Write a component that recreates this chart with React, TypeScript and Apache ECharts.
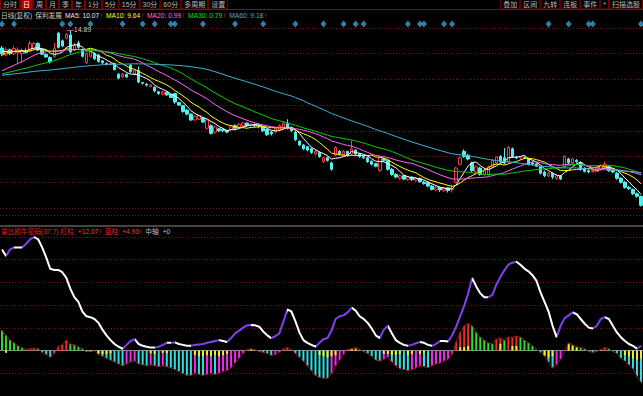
import React, { useEffect, useRef } from "react";
import * as echarts from "echarts";

// ---------------- data ----------------
// closes before the visible window (only used to seed the moving averages)
const priorCloses = [
  13.0, 13.1, 13.2, 13.1, 13.0, 12.9, 13.0, 13.2, 13.3, 13.2,
  13.1, 13.0, 13.1, 13.2, 13.3, 13.4, 13.3, 13.2, 13.1, 13.0,
  13.1, 13.2, 13.1, 13.0, 12.9, 13.0, 13.1, 13.2, 13.1, 13.0,
  13.0, 12.9, 13.1, 13.0, 12.9, 13.0, 13.1, 13.0, 12.9, 12.8,
  12.7, 12.6, 12.8, 12.7, 12.6, 12.5, 12.7, 12.8, 12.9, 13.0,
  13.3, 13.6, 13.9, 14.2, 14.0, 14.1, 14.2, 14.0, 14.1,
];

const opens = [
  14.22, 13.95, 14.15, 14.0, 14.05, 14.0, 14.1, 14.1, 14.2, 14.4,
  14.15, 13.98, 13.85, 13.9, 14.8, 14.5, 14.6, 14.73, 14.15, 14.42,
  14.14, 13.65, 13.9, 14.0, 13.95, 13.72, 13.62, 13.58, 13.62, 13.2,
  13.1, 13.2, 13.55, 13.2, 13.35, 12.88, 12.82, 12.72, 12.7, 12.52,
  12.42, 12.5, 12.42, 12.45, 12.1, 11.98, 11.8, 11.65, 11.42, 11.45,
  11.5, 11.1, 11.2, 10.95, 11.08, 11.05, 11.0, 11.05, 11.2, 11.15,
  11.2, 11.3, 11.22, 11.25, 11.2, 11.15, 11.05, 10.95, 10.95, 11.05,
  11.1, 11.28, 11.12, 10.95, 10.6, 10.45, 10.38, 10.3, 10.1, 10.15,
  9.8, 9.95, 9.75, 10.06, 10.2, 10.05, 10.2, 10.1, 10.25, 10.1,
  10.0, 9.95, 9.82, 9.72, 9.45, 9.9, 9.85, 9.5, 9.3, 9.15,
  9.25, 9.1, 9.2, 9.08, 9.15, 9.0, 8.98, 8.85, 8.7, 8.8,
  8.68, 8.78, 8.7, 9.0, 9.7, 10.2, 10.05, 9.75, 9.4, 9.55,
  9.3, 9.3, 9.6, 9.75, 10.0, 9.95, 9.8, 10.3, 9.98, 9.95,
  9.97, 9.9, 9.75, 9.72, 9.6, 9.4, 9.25, 9.35, 9.15, 9.25,
  9.6, 9.9, 9.75, 9.85, 9.75, 9.55, 9.45, 9.42, 9.42, 9.5,
  9.55, 9.6, 9.45, 9.35, 9.15, 9.0, 8.8, 8.72, 8.55, 8.45,
];
const closes = [
  14.0, 14.15, 14.0, 14.2, 14.15, 14.1, 14.05, 14.4, 14.4, 14.15,
  13.98, 13.87, 13.68, 14.2, 14.25, 14.3, 14.75, 14.07, 14.34, 14.25,
  13.9, 14.0, 14.07, 13.8, 13.7, 13.65, 13.58, 13.62, 13.38, 13.05,
  13.2, 13.1, 13.3, 13.35, 12.9, 12.85, 12.78, 12.78, 12.55, 12.45,
  12.5, 12.4, 12.3, 12.12, 12.0, 11.75, 11.65, 11.42, 11.55, 11.6,
  11.34, 11.42, 10.9, 11.15, 11.0, 11.0, 10.95, 11.15, 11.1, 11.25,
  11.3, 11.2, 11.25, 11.2, 11.18, 11.0, 10.85, 10.88, 11.1, 11.2,
  11.3, 11.12, 11.0, 10.65, 10.45, 10.3, 10.25, 10.15, 10.2, 10.0,
  9.95, 9.85, 9.5, 10.35, 10.1, 10.2, 10.05, 10.3, 10.1, 10.0,
  9.95, 9.8, 9.7, 9.62, 9.98, 9.85, 9.5, 9.3, 9.2, 9.25,
  9.12, 9.2, 9.1, 9.15, 9.02, 8.95, 8.85, 8.72, 8.8, 8.7,
  8.78, 8.68, 8.75, 9.55, 9.95, 10.0, 9.9, 9.45, 9.6, 9.3,
  9.45, 9.6, 9.85, 9.98, 9.8, 9.75, 10.35, 10.0, 9.95, 9.97,
  9.95, 9.7, 9.7, 9.62, 9.35, 9.25, 9.35, 9.2, 9.25, 9.12,
  10.0, 9.75, 9.9, 9.8, 9.5, 9.42, 9.4, 9.45, 9.55, 9.65,
  9.7, 9.45, 9.4, 9.15, 9.0, 8.8, 8.75, 8.55, 8.45, 8.1,
];
const lows = [
  13.9, 13.9, 13.95, 13.95, 13.6, 13.65, 14.0, 14.05, 14.15, 14.1,
  13.95, 13.85, 13.62, 13.85, 14.2, 14.25, 14.55, 14.0, 14.1, 14.2,
  13.85, 13.6, 13.85, 13.75, 13.65, 13.6, 13.55, 13.55, 13.35, 13.0,
  13.05, 13.05, 13.25, 13.15, 12.85, 12.8, 12.72, 12.7, 12.5, 12.4,
  12.38, 12.35, 12.28, 12.05, 11.97, 11.7, 11.6, 11.38, 11.4, 11.42,
  11.3, 11.05, 10.85, 10.88, 10.95, 10.95, 10.9, 11.0, 11.05, 11.1,
  11.15, 11.15, 11.18, 11.15, 11.1, 10.95, 10.8, 10.82, 10.9, 11.0,
  11.05, 11.05, 10.95, 10.6, 10.4, 10.25, 10.2, 10.1, 10.05, 9.95,
  9.75, 9.8, 9.45, 10.0, 10.05, 10.0, 10.0, 10.05, 10.05, 9.95,
  9.9, 9.75, 9.65, 9.58, 9.4, 9.8, 9.45, 9.25, 9.15, 9.1,
  9.08, 9.05, 9.05, 9.02, 8.98, 8.9, 8.8, 8.68, 8.65, 8.62,
  8.62, 8.6, 8.6, 8.95, 9.65, 9.95, 9.85, 9.4, 9.3, 9.25,
  9.25, 9.25, 9.55, 9.7, 9.75, 9.7, 9.75, 9.95, 9.9, 9.9,
  9.9, 9.65, 9.65, 9.6, 9.3, 9.2, 9.2, 9.12, 9.1, 9.08,
  9.55, 9.7, 9.7, 9.75, 9.45, 9.38, 9.35, 9.38, 9.4, 9.45,
  9.5, 9.4, 9.35, 9.1, 8.95, 8.75, 8.7, 8.5, 8.4, 8.05,
];
const highs = [
  14.3, 14.25, 14.2, 14.3, 14.25, 14.2, 14.2, 14.5, 14.45, 14.45,
  14.2, 14.0, 13.9, 14.42, 14.85, 14.55, 14.8, 14.89, 14.42, 14.5,
  14.2, 14.05, 14.1, 14.05, 14.0, 13.75, 13.66, 13.65, 13.65, 13.25,
  13.25, 13.22, 13.6, 13.4, 13.5, 12.9, 12.85, 12.82, 12.72, 12.55,
  12.55, 12.52, 12.45, 12.48, 12.12, 12.0, 11.85, 11.68, 11.6, 11.62,
  11.55, 11.45, 11.25, 11.2, 11.1, 11.1, 11.05, 11.2, 11.25, 11.3,
  11.35, 11.33, 11.3, 11.28, 11.25, 11.2, 11.08, 11.0, 11.12, 11.25,
  11.35, 11.45, 11.15, 11.0, 10.62, 10.48, 10.4, 10.35, 10.25, 10.2,
  10.0, 10.0, 9.8, 10.4, 10.25, 10.25, 10.22, 10.62, 10.28, 10.12,
  10.05, 10.0, 9.85, 9.75, 10.0, 9.95, 9.88, 9.55, 9.35, 9.3,
  9.28, 9.25, 9.22, 9.2, 9.18, 9.05, 9.0, 8.9, 8.85, 8.82,
  8.82, 8.8, 8.9, 9.6, 10.0, 10.28, 10.1, 9.8, 9.65, 9.6,
  9.55, 9.65, 9.9, 10.0, 10.05, 10.33, 10.4, 10.35, 10.02, 10.0,
  10.0, 9.95, 9.8, 9.75, 9.62, 9.45, 9.4, 9.38, 9.3, 9.28,
  10.05, 9.95, 9.95, 9.9, 9.8, 9.58, 9.5, 9.5, 9.6, 9.7,
  9.8, 9.65, 9.5, 9.4, 9.2, 9.05, 8.85, 8.75, 8.6, 8.48,
];

// candle indices carrying a blue signal diamond
const signalIdx = [0, 3, 15, 17, 22, 30, 35, 38, 42, 43, 50, 58, 65, 73, 80, 85, 88, 90, 101, 104, 105, 110, 112, 136, 141, 146, 147, 159];

// lower panel indicator line
const indicatorLine = [
  44.5, 41.6, 44.5, 45.4, 45.4, 45.4, 47, 49, 50, 49,
  45.4, 41, 36, 35.5, 35.5, 34.5, 32, 27.3, 23.5, 21.4,
  17.2, 15.1, 14.7, 13.9, 12.2, 9.2, 6.7, 4.6, 2.9, 1.7,
  0.8, 2.5, 4.2, 5.0, 2.9, 2.1, 1.7, 1.3, 1.3, 1.7,
  2.5, 3.4, 3.4, 3.6, 2.9, 2.5, 2.1, 2.1, 2.5, 2.7,
  2.9, 3.4, 3.8, 4.2, 4.6, 4.2, 3.8, 5.5, 7.6, 8.8,
  10.1, 11.1, 11.3, 11.1, 10.5, 8.4, 6.7, 5.5, 6.3, 7.6,
  12.6, 18.1, 17.2, 13.0, 8.0, 4.6, 3.4, 2.5, 1.7, 3.4,
  5.0, 5.5, 8.8, 13.9, 15.1, 15.5, 16.8, 18.9, 17.6, 15.1,
  13.9, 12.2, 9.7, 6.7, 5.5, 9.2, 10.9, 7.6, 4.6, 3.4,
  2.5, 2.1, 2.5, 3.2, 3.8, 3.4, 2.5, 2.1, 2.9, 4.2,
  4.2, 4.0, 6.7, 10.5, 15.1, 19.7, 25.2, 31.9, 28.2, 25.2,
  23.5, 23.5, 24.4, 29.0, 32.4, 35.3, 37.8, 38.7, 39.1, 37.8,
  36.1, 34.9, 33.2, 30.7, 25.6, 21.4, 17.2, 10.9, 5.9, 10.9,
  14.3, 15.5, 16.8, 16.0, 13.9, 11.8, 10.1, 9.7, 10.9, 13.9,
  14.7, 13.9, 10.9, 8.0, 5.9, 4.2, 2.9, 2.1, 0.8, 2.1,
];

// lower panel histogram
const histogram = [
  8.8, 6.7, 4.6, 3.4, 2.1, 1.3, 0.4, 0.8, 1.0, 0.8,
  -0.8, -1.7, -2.9, -1.3, 1.7, 2.5, 4.6, 2.9, 2.5, 1.7,
  0.8, -0.4, -0.4, -0.2, -1.7, -2.5, -3.4, -4.2, -5.0, -5.9,
  -6.7, -5.9, -5.0, -4.6, -5.9, -6.3, -6.7, -6.3, -6.7, -7.1,
  -6.7, -7.1, -7.6, -8.4, -9.2, -10.1, -10.9, -10.9, -10.1, -10.5,
  -10.9, -10.5, -10.1, -10.5, -10.1, -9.2, -8.8, -7.6, -5.5, -3.4,
  -1.3, 0.4, 0.8, 0.4, -0.4, -0.8, -1.3, -2.1, -1.7, -0.8,
  0.8, 1.3, 0.4, -1.3, -2.9, -4.6, -6.7, -8.8, -10.9, -11.8,
  -12.2, -12.2, -10.1, -6.7, -4.2, -1.7, 0.4, 0.8, 1.3, 0.4,
  -0.4, -1.3, -2.5, -4.2, -4.6, -3.8, -2.9, -5.0, -6.7, -8.0,
  -8.4, -8.8, -8.4, -7.6, -6.7, -7.1, -7.6, -6.7, -5.9, -5.5,
  -4.6, -3.8, -1.7, 3.8, 8.0, 10.9, 11.8, 10.9, 8.0, 5.9,
  4.6, 3.4, 2.9, 5.0, 5.5, 4.6, 5.9, 5.9, 6.3, 5.9,
  4.6, 3.4, 2.1, 0.4, -0.8, -2.5, -5.0, -7.6, -6.3, -3.8,
  -0.2, 3.4, 2.5, 1.7, 1.3, 0.8, -0.4, -0.8, -0.4, 0.4,
  1.3, 0.8, -0.4, -1.3, -3.4, -4.6, -6.3, -8.0, -11.3, -13.9,
];

// yellow caps drawn over the histogram: [candle index, value]
const yellowBars: [number, number][] = [
  [1, -1.0], [21, -0.4], [22, -0.4], [24, -1.2], [25, -1.5], [26, -1.5], [27, -1.2],
  [37, -1.2], [38, -1.5], [40, -1.0], [41, -1.2], [48, -2.0], [49, -2.5], [50, -2.5],
  [51, -2.0], [52, -2.5], [53, -2.0], [54, -2.5], [55, -2.0], [56, -1.5], [62, 0.6],
  [79, -2.0], [80, -2.5], [81, -3.0], [82, -2.5], [83, -2.0], [86, 0.4], [87, 0.8],
  [88, 0.6], [95, -1.5], [96, -1.5], [97, -2.0], [98, -2.0], [99, -1.5], [101, -2.0],
  [102, -1.5], [104, -1.5], [105, -1.0], [114, 1.5], [115, 1.5], [116, 2.0], [124, 3.0],
  [127, 2.0], [128, 2.0], [135, -2.0], [136, -3.0], [137, -2.5], [141, 3.0], [142, 2.0],
  [143, 1.2], [149, 0.4], [155, -2.0], [156, -2.5], [157, -3.5], [158, -4.0], [159, -3.5],
];

const maPeriods = [5, 10, 20, 30, 60];

const legendTop: [string, string, number][] = [
  ["日线(复权)", "#c8c8c8", 3],
  ["保利发展", "#c8c8c8", 3],
  ["MA5: 10.07", "#e8e8e8", 0.5],
  ["↑", "#ff3030", 3],
  ["MA10: 9.64", "#ffff00", 0.5],
  ["↑", "#ff3030", 3],
  ["MA20: 0.99", "#ff66ff", 0.5],
  ["↑", "#ff3030", 3],
  ["MA30: 0.79", "#00e000", 0.5],
  ["↑", "#ff3030", 3],
  ["MA60: 9.18", "#3fb0dc", 0.5],
  ["↑", "#ff3030", 3],
];
const legendLow: [string, string, number][] = [
  ["量比抓牛密码(37,7)", "#e02424", 2],
  ["红柱:", "#e02424", 2],
  ["+12.07↑", "#e84040", 3],
  ["蓝柱:", "#e02424", 2],
  ["+4.93↑", "#e84040", 3],
  ["中轴", "#c0c0c0", 4],
  ["+0", "#c0c0c0", 3],
];
const toolbarLeft = ["分时", "日", "周", "月", "季", "年", "1分", "5分", "15分", "30分", "60分", "多周期", "设置"];
const toolbarRight = ["叠加", "区间", "九转", "连板", "事件", "*", "扫描选股"];

// ---------------- styles ----------------
const MA_COLORS = ["#ffffff", "#ffff00", "#ff66ff", "#00d000", "#3fb0dc"];
const FONT = '"Liberation Sans", "Noto Sans CJK SC", sans-serif';
const GRID_LINE = "#761414";
const PURPLE = "#8040f0";

function movingAverage(n: number) {
  const all = priorCloses.concat(closes);
  const off = priorCloses.length;
  return closes.map((_, i) => {
    const end = off + i;
    const start = Math.max(0, end - n + 1);
    let s = 0;
    for (let k = start; k <= end; k++) s += all[k];
    return +(s / (end - start + 1)).toFixed(3);
  });
}

function buildOption() {
  const categories = closes.map((_, i) => String(i));
  const candleData = opens.map((o, i) => [o, closes[i], lows[i], highs[i]]);

  const histData = histogram.map((v, i) => {
    const prev = i > 0 ? histogram[i - 1] : v - (histogram[1] - v);
    let color;
    if (v >= 0) color = v >= prev ? "#ee2a2a" : "#2add2a";
    else color = v <= prev ? "#2ae0e0" : "#ee2aee";
    return { value: v, itemStyle: { color } };
  });
  const yellowData: any[] = histogram.map(() => "-");
  yellowBars.forEach(([i, v]) => (yellowData[i] = v));

  const pieces: any[] = [];
  let runStart = 0;
  let runUp = indicatorLine[1] > indicatorLine[0];
  for (let i = 1; i < indicatorLine.length - 1; i++) {
    const up = indicatorLine[i + 1] > indicatorLine[i];
    if (up !== runUp) {
      pieces.push({ gte: runStart, lt: i, color: runUp ? PURPLE : "#ffffff" });
      runStart = i;
      runUp = up;
    }
  }
  pieces.push({ gte: runStart, lte: indicatorLine.length - 1, color: runUp ? PURPLE : "#ffffff" });

  const ctx = document.createElement("canvas").getContext("2d")!;
  const row = (segs: [string, string, number][], x0: number, y: number, size: number) => {
    const font = `${size}px ${FONT}`;
    ctx.font = font;
    let x = x0;
    return segs.map(([t, c, g]) => {
      const el = {
        type: "text",
        x,
        y,
        silent: true,
        style: { text: t, fill: c, font, verticalAlign: "middle", textVerticalAlign: "middle" },
      };
      x += ctx.measureText(t).width + g;
      return el;
    });
  };

  const TB_SIZE = 7;
  const tbFont = `${TB_SIZE}px ${FONT}`;
  const tbWidth = (t: string) => {
    ctx.font = tbFont;
    return ctx.measureText(t).width + 6;
  };
  const toolbar = (labels: string[], x0: number) => {
    let x = x0;
    const els: any[] = [];
    labels.forEach((t) => {
      const w = tbWidth(t);
      const hot = t === "日";
      els.push({
        type: "rect",
        silent: true,
        shape: { x: x + 0.5, y: -3, width: w - 1, height: 12 },
        style: { fill: hot ? "#b00000" : "#000", stroke: "#7a0000", lineWidth: 1 },
      });
      els.push({
        type: "text",
        silent: true,
        x: x + w / 2,
        y: 4.5,
        style: { text: t, fill: hot ? "#ffffff" : "#b8b8b8", font: tbFont, align: "center", textAlign: "center", verticalAlign: "middle", textVerticalAlign: "middle" },
      });
      x += w;
    });
    return els;
  };
  const rightStart = 643 - toolbarRight.reduce((s, t) => s + tbWidth(t), 0);

  const hiddenCat = (gridIndex: number) => ({
    type: "category",
    gridIndex,
    data: categories,
    boundaryGap: true,
    axisLine: { show: false },
    axisTick: { show: false },
    axisLabel: { show: false },
    splitLine: { show: false },
  });
  const hiddenVal = (gridIndex: number, extra: any) => ({
    type: "value",
    gridIndex,
    axisLine: { show: false },
    axisTick: { show: false },
    axisLabel: { show: false },
    splitLine: { show: false },
    ...extra,
  });
  const dotted = { show: true, lineStyle: { color: GRID_LINE, type: [1, 2], width: 1 } };

  const maSeries = maPeriods.map((n, k) => ({
    type: "line",
    name: "MA" + n,
    xAxisIndex: 1,
    yAxisIndex: 1,
    data: movingAverage(n),
    symbol: "none",
    smooth: false,
    lineStyle: { width: 1, color: MA_COLORS[k] },
    z: 3,
  }));

  return {
    animation: false,
    backgroundColor: "#000000",
    grid: [
      { left: 0, right: 0, top: 19, height: 10 },
      { left: 0, right: 0, top: 28, height: 187 },
      { left: 0, right: 0, top: 237, height: 166.6 },
    ],
    xAxis: [
      hiddenCat(0),
      hiddenCat(1),
      {
        ...hiddenCat(2),
        axisLine: { show: true, onZero: true, lineStyle: { color: "#8a8a8a", width: 1 } },
      },
    ],
    yAxis: [
      hiddenVal(0, { min: 0, max: 1 }),
      hiddenVal(1, { min: 7.724, max: 15, scale: true }),
      hiddenVal(1, { min: 0, max: 7.276, interval: 1, inverse: true, splitLine: dotted }),
      hiddenVal(2, { min: -20, max: 50, interval: 10, splitLine: dotted }),
    ],
    visualMap: [
      {
        type: "piecewise",
        show: false,
        dimension: 0,
        seriesIndex: 10,
        pieces,
        outOfRange: { color: "#ffffff" },
      },
    ],
    series: [
      {
        type: "scatter",
        xAxisIndex: 0,
        yAxisIndex: 0,
        data: signalIdx.map((i) => [i, 0.5]),
        symbol: "diamond",
        symbolSize: [6, 7],
        itemStyle: { color: "#3c9fd2" },
      },
      {
        type: "candlestick",
        xAxisIndex: 1,
        yAxisIndex: 1,
        data: candleData,
        barWidth: 3,
        itemStyle: {
          color: "#000000",
          color0: "#54f0f0",
          borderColor: "#ff3838",
          borderColor0: "#54f0f0",
          borderWidth: 1,
        },
        markPoint: {
          symbol: "rect",
          symbolSize: [1, 1],
          itemStyle: { color: "rgba(0,0,0,0)" },
          data: [{ type: "max", valueDim: "highest" }],
          label: {
            show: true,
            position: "right",
            distance: 0,
            offset: [-4, -1],
            color: "#c8c8c8",
            fontSize: 7,
            fontFamily: FONT,
            formatter: (p: any) => "—" + Number(p.value).toFixed(2),
          },
        },
        z: 2,
      },
      ...maSeries,
      {
        type: "bar",
        xAxisIndex: 2,
        yAxisIndex: 3,
        data: histData,
        barWidth: 2,
        barGap: "-100%",
        z: 2,
      },
      {
        type: "bar",
        xAxisIndex: 2,
        yAxisIndex: 3,
        data: yellowData,
        barWidth: 2,
        barGap: "-100%",
        itemStyle: { color: "#f0f020" },
        z: 2,
      },
      {
        type: "line",
        xAxisIndex: 2,
        yAxisIndex: 3,
        data: histogram,
        symbol: "none",
        lineStyle: { width: 1, color: "#8e1a1a" },
        z: 3,
      },
      {
        type: "line",
        xAxisIndex: 2,
        yAxisIndex: 3,
        data: indicatorLine,
        symbol: "none",
        lineStyle: { width: 2 },
        z: 5,
      },
    ],
    graphic: {
      elements: [
        ...toolbar(toolbarLeft, 0),
        ...toolbar(toolbarRight, rightStart),
        { type: "line", silent: true, shape: { x1: 0, y1: 9.5, x2: 643, y2: 9.5 }, style: { stroke: "#a00000", lineWidth: 1 } },
        ...row(legendTop, 1, 15, 6.7),
        { type: "line", silent: true, shape: { x1: 0, y1: 226, x2: 643, y2: 226 }, style: { stroke: "#8a8a8a", lineWidth: 1 } },
        ...row(legendLow, 1, 231, 6.7),
      ],
    },
  };
}

export default function App() {
  const ref = useRef<HTMLDivElement>(null);
  useEffect(() => {
    document.body.style.margin = "0";
    document.body.style.background = "#000";
    const chart = echarts.init(ref.current!, undefined, { renderer: "svg" });
    chart.setOption(buildOption() as any);
    return () => chart.dispose();
  }, []);
  return (
    <div
      ref={ref}
      style={{ position: "absolute", left: 0, top: 0, width: 643, height: 396, background: "#000" }}
    />
  );
}
